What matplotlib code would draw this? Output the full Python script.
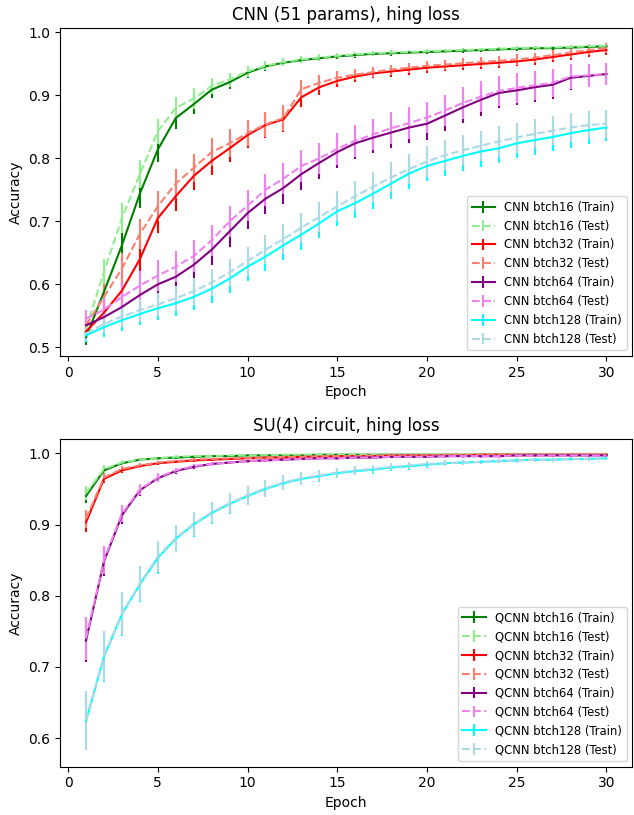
import numpy as np
import matplotlib.pyplot as plt

epochs = np.arange(1, 31)

# CNN (51 params) accuracies
cnn16_train = [0.516, 0.588, 0.662, 0.744, 0.814, 0.864, 0.886, 0.909, 0.921, 0.936,
               0.946, 0.952, 0.956, 0.959, 0.962, 0.964, 0.966, 0.967, 0.968, 0.969,
               0.970, 0.971, 0.972, 0.973, 0.974, 0.975, 0.975, 0.976, 0.977, 0.978]
cnn16_test = [0.530, 0.620, 0.705, 0.775, 0.843, 0.880, 0.895, 0.915, 0.925, 0.938,
              0.947, 0.953, 0.957, 0.960, 0.963, 0.965, 0.967, 0.968, 0.969, 0.970,
              0.971, 0.972, 0.973, 0.974, 0.975, 0.976, 0.976, 0.977, 0.978, 0.979]
cnn32_train = [0.525, 0.555, 0.590, 0.640, 0.705, 0.740, 0.772, 0.796, 0.816, 0.837,
               0.853, 0.862, 0.897, 0.913, 0.923, 0.930, 0.935, 0.938, 0.941, 0.944,
               0.946, 0.948, 0.950, 0.952, 0.954, 0.957, 0.961, 0.965, 0.969, 0.972]
cnn32_test = [0.535, 0.580, 0.625, 0.680, 0.724, 0.760, 0.785, 0.810, 0.824, 0.840,
              0.854, 0.864, 0.910, 0.920, 0.928, 0.933, 0.937, 0.941, 0.944, 0.947,
              0.949, 0.951, 0.953, 0.955, 0.957, 0.960, 0.964, 0.968, 0.972, 0.975]
cnn64_train = [0.535, 0.548, 0.564, 0.583, 0.600, 0.612, 0.631, 0.655, 0.684, 0.713,
               0.736, 0.753, 0.775, 0.793, 0.810, 0.824, 0.833, 0.841, 0.849, 0.855,
               0.868, 0.881, 0.893, 0.904, 0.908, 0.913, 0.917, 0.928, 0.931, 0.934]
cnn64_test = [0.545, 0.560, 0.580, 0.598, 0.614, 0.628, 0.645, 0.670, 0.700, 0.725,
              0.750, 0.768, 0.788, 0.800, 0.815, 0.828, 0.838, 0.848, 0.856, 0.865,
              0.876, 0.888, 0.898, 0.907, 0.912, 0.916, 0.920, 0.930, 0.932, 0.934]
cnn128_train = [0.519, 0.532, 0.543, 0.553, 0.562, 0.570, 0.580, 0.593, 0.609, 0.628,
                0.644, 0.662, 0.679, 0.697, 0.716, 0.729, 0.744, 0.760, 0.776, 0.788,
                0.796, 0.804, 0.811, 0.816, 0.824, 0.829, 0.834, 0.840, 0.845, 0.849]
cnn128_test = [0.522, 0.537, 0.549, 0.559, 0.568, 0.578, 0.589, 0.603, 0.619, 0.637,
               0.655, 0.672, 0.690, 0.707, 0.724, 0.740, 0.755, 0.770, 0.783, 0.795,
               0.805, 0.813, 0.820, 0.827, 0.833, 0.839, 0.844, 0.849, 0.853, 0.855]

cnn16_err = [0.012, 0.020, 0.024, 0.022, 0.020, 0.018, 0.016, 0.013, 0.011, 0.009,
             0.007, 0.006, 0.005, 0.005, 0.004, 0.004, 0.004, 0.004, 0.003, 0.003,
             0.003, 0.003, 0.003, 0.003, 0.003, 0.003, 0.003, 0.003, 0.003, 0.003]
cnn32_err = [0.012, 0.020, 0.024, 0.024, 0.024, 0.023, 0.022, 0.022, 0.022, 0.021,
             0.020, 0.020, 0.015, 0.012, 0.010, 0.009, 0.008, 0.008, 0.008, 0.008,
             0.008, 0.008, 0.008, 0.008, 0.008, 0.008, 0.008, 0.008, 0.008, 0.008]
cnn64_err = [0.015, 0.020, 0.022, 0.023, 0.024, 0.025, 0.025, 0.025, 0.025, 0.025,
             0.025, 0.025, 0.025, 0.025, 0.025, 0.025, 0.025, 0.025, 0.025, 0.025,
             0.025, 0.025, 0.025, 0.024, 0.024, 0.023, 0.022, 0.020, 0.018, 0.018]
cnn128_err = [0.010, 0.015, 0.017, 0.018, 0.019, 0.020, 0.021, 0.022, 0.022, 0.023,
              0.023, 0.024, 0.024, 0.024, 0.024, 0.024, 0.024, 0.024, 0.024, 0.024,
              0.024, 0.024, 0.024, 0.024, 0.024, 0.023, 0.023, 0.023, 0.022, 0.022]

# QCNN, SU(4) circuit accuracies
q16_train = [0.940, 0.976, 0.986, 0.991, 0.993, 0.994, 0.995, 0.996, 0.996, 0.997,
             0.997, 0.997, 0.997, 0.998, 0.998, 0.998, 0.998, 0.998, 0.998, 0.998,
             0.998, 0.998, 0.998, 0.998, 0.998, 0.998, 0.998, 0.998, 0.998, 0.998]
q16_test = [0.944, 0.978, 0.987, 0.991, 0.993, 0.995, 0.996, 0.996, 0.997, 0.997,
            0.997, 0.998, 0.998, 0.998, 0.998, 0.998, 0.998, 0.998, 0.998, 0.998,
            0.998, 0.998, 0.998, 0.999, 0.999, 0.999, 0.999, 0.999, 0.999, 0.999]
q32_train = [0.903, 0.964, 0.976, 0.982, 0.986, 0.988, 0.990, 0.991, 0.992, 0.993,
             0.994, 0.994, 0.995, 0.995, 0.996, 0.996, 0.996, 0.997, 0.997, 0.997,
             0.997, 0.997, 0.998, 0.998, 0.998, 0.998, 0.998, 0.998, 0.998, 0.998]
q32_test = [0.908, 0.966, 0.978, 0.983, 0.987, 0.989, 0.991, 0.992, 0.993, 0.993,
            0.994, 0.995, 0.995, 0.996, 0.996, 0.996, 0.997, 0.997, 0.997, 0.997,
            0.998, 0.998, 0.998, 0.998, 0.998, 0.998, 0.998, 0.999, 0.999, 0.999]
q64_train = [0.737, 0.848, 0.913, 0.948, 0.965, 0.975, 0.981, 0.985, 0.987, 0.989,
             0.990, 0.991, 0.992, 0.993, 0.993, 0.994, 0.994, 0.995, 0.995, 0.995,
             0.996, 0.996, 0.996, 0.996, 0.997, 0.997, 0.997, 0.997, 0.997, 0.997]
q64_test = [0.740, 0.850, 0.915, 0.949, 0.966, 0.976, 0.982, 0.985, 0.987, 0.989,
            0.990, 0.991, 0.992, 0.993, 0.993, 0.994, 0.994, 0.995, 0.995, 0.995,
            0.996, 0.996, 0.996, 0.996, 0.997, 0.997, 0.997, 0.997, 0.997, 0.997]
q128_train = [0.624, 0.714, 0.774, 0.816, 0.853, 0.880, 0.900, 0.916, 0.929, 0.940,
              0.950, 0.958, 0.964, 0.968, 0.972, 0.975, 0.977, 0.980, 0.982, 0.984,
              0.986, 0.987, 0.988, 0.989, 0.990, 0.991, 0.991, 0.992, 0.992, 0.993]
q128_test = [0.625, 0.715, 0.775, 0.817, 0.855, 0.881, 0.901, 0.917, 0.930, 0.941,
             0.951, 0.959, 0.965, 0.969, 0.973, 0.976, 0.978, 0.981, 0.983, 0.985,
             0.986, 0.987, 0.988, 0.989, 0.990, 0.991, 0.991, 0.992, 0.992, 0.993]

q16_err = [0.010, 0.005, 0.003, 0.002, 0.002, 0.002, 0.001, 0.001, 0.001, 0.001,
           0.001, 0.001, 0.001, 0.001, 0.001, 0.001, 0.001, 0.001, 0.001, 0.001,
           0.001, 0.001, 0.001, 0.001, 0.001, 0.001, 0.001, 0.001, 0.001, 0.001]
q32_err = [0.013, 0.006, 0.004, 0.003, 0.002, 0.002, 0.002, 0.002, 0.001, 0.001,
           0.001, 0.001, 0.001, 0.001, 0.001, 0.001, 0.001, 0.001, 0.001, 0.001,
           0.001, 0.001, 0.001, 0.001, 0.001, 0.001, 0.001, 0.001, 0.001, 0.001]
q64_err = [0.030, 0.020, 0.012, 0.008, 0.006, 0.004, 0.003, 0.003, 0.002, 0.002,
           0.002, 0.002, 0.002, 0.002, 0.002, 0.002, 0.002, 0.002, 0.002, 0.002,
           0.002, 0.002, 0.002, 0.002, 0.002, 0.002, 0.002, 0.002, 0.002, 0.002]
q128_err = [0.041, 0.035, 0.030, 0.025, 0.022, 0.019, 0.017, 0.015, 0.014, 0.013,
            0.012, 0.010, 0.009, 0.008, 0.007, 0.006, 0.006, 0.005, 0.005, 0.004,
            0.004, 0.004, 0.003, 0.003, 0.003, 0.003, 0.003, 0.003, 0.003, 0.003]

batches = ["btch16", "btch32", "btch64", "btch128"]
train_colors = ["green", "red", "purple", "cyan"]
test_colors = ["lightgreen", "salmon", "violet", "lightblue"]


def draw(ax, prefix, trains, tests, errs, title, ylim):
    for b, tr, te, er, c1, c2 in zip(batches, trains, tests, errs,
                                      train_colors, test_colors):
        ax.errorbar(epochs, tr, yerr=er, color=c1, lw=1.5,
                    label="{} {} (Train)".format(prefix, b))
        ax.errorbar(epochs, te, yerr=er, color=c2, lw=1.5, ls="--",
                    label="{} {} (Test)".format(prefix, b))
    ax.set_title(title, fontsize=12)
    ax.set_xlabel("Epoch")
    ax.set_ylabel("Accuracy")
    ax.set_ylim(*ylim)
    ax.set_xticks([0, 5, 10, 15, 20, 25, 30])
    ax.legend(loc="lower right", fontsize=8.4)


fig = plt.figure(figsize=(6.34, 8.15), dpi=100)
ax1 = fig.add_axes([0.0946, 0.563, 0.903, 0.4026])
ax2 = fig.add_axes([0.0946, 0.0593, 0.903, 0.402])

draw(ax1, "CNN", [cnn16_train, cnn32_train, cnn64_train, cnn128_train],
     [cnn16_test, cnn32_test, cnn64_test, cnn128_test],
     [cnn16_err, cnn32_err, cnn64_err, cnn128_err],
     "CNN (51 params), hing loss", (0.486, 1.007))
draw(ax2, "QCNN", [q16_train, q32_train, q64_train, q128_train],
     [q16_test, q32_test, q64_test, q128_test],
     [q16_err, q32_err, q64_err, q128_err],
     "SU(4) circuit, hing loss", (0.560, 1.020))
ax2.set_yticks([0.6, 0.7, 0.8, 0.9, 1.0])

fig.savefig("out.png", dpi=100)
